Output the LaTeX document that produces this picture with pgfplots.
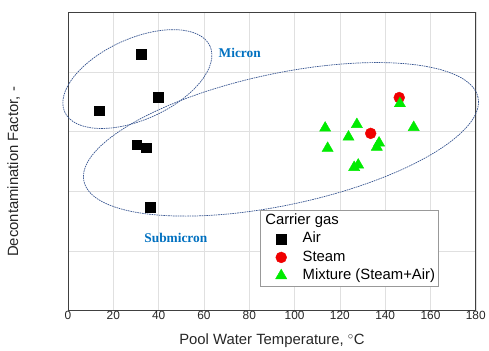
\documentclass[border=0pt]{standalone}
\usepackage{fontspec}
\setmainfont{Liberation Sans}
\newfontfamily\serifb{Liberation Serif}
\usepackage{pgfplots}
\pgfplotsset{compat=1.18}
\definecolor{mygreen}{RGB}{0,235,0}
\definecolor{myred}{RGB}{240,0,0}
\definecolor{myblue}{RGB}{0,112,192}
\definecolor{elcol}{RGB}{55,85,145}
\begin{document}
\begin{tikzpicture}
\begin{axis}[
  scale only axis, width=410.5bp, height=300.4bp,
  xmin=0, xmax=180, ymin=0, ymax=5,
  xtick={0,20,...,180}, ytick={1,2,3,4}, yticklabels={},
  grid=major, grid style={black!12, line width=0.6bp},
  major tick length=0pt,
  axis line style={draw=black!75, line width=1bp},
  clip=false,
  /pgf/number format/assume math mode=true,
  tick label style={font=\fontsize{12}{14}\selectfont, text=black!85},
  xticklabel style={yshift=2.5bp},
  xlabel={Pool Water Temperature, $^{\circ}$C},
  ylabel={Decontamination Factor, -},
  label style={font=\fontsize{15}{18}\selectfont, text=black!85},
  xlabel style={at={(axis description cs:0.5,-0.113)}, anchor=base},
  ylabel style={at={(axis description cs:-0.1335,0.465)}, anchor=center},
  legend style={at={(0.4714,0.0789)}, anchor=south west, draw=black!40, line width=0.8bp,
    font=\fontsize{15}{18}\selectfont, inner xsep=3.7bp, inner ysep=2bp, column sep=0bp,
    nodes={inner xsep=0bp, inner ysep=1.4bp, text height=11.5bp, text depth=4bp, line width=0.4bp},
    cells={anchor=west}},
  legend image code/.code={\path[draw=none,fill=none] (0bp,-2bp) rectangle (38.6bp,2bp); \draw[#1] plot coordinates {(17bp,0bp)};},
]
\addlegendimage{empty legend}
\addlegendentry{\hspace{-37.6bp}Carrier gas}
\addplot[only marks, mark=square*, mark size=5bp, black, line width=0.4bp] coordinates {
  (32.5,4.29) (40.0,3.57) (13.8,3.35) (30.3,2.78) (34.3,2.73) (36.2,1.74)
};
\addlegendentry{Air}
\addplot[only marks, mark=*, mark size=5.5bp, myred, line width=0.4bp] coordinates {
  (146.2,3.57) (133.6,2.97)
};
\addlegendentry{Steam}
\addplot[only marks, mark=triangle*, mark size=6.5bp, mygreen, line width=0.4bp] coordinates {
  (113.5,3.06) (127.5,3.12) (123.8,2.91) (114.6,2.72) (152.6,3.07)
  (146.5,3.47) (137.3,2.81) (136.3,2.74) (126.3,2.40) (128.1,2.44)
};
\addlegendentry{Mixture (Steam+Air)}
\draw[elcol, line width=0.7bp, dash pattern=on 1.6bp off 0.8bp, rotate around={24.4:(axis cs:30.6,3.88)}]
  (axis cs:30.6,3.88) ellipse [x radius=80.3bp, y radius=40.7bp];
\draw[elcol, line width=0.7bp, dash pattern=on 1.6bp off 0.8bp, rotate around={12:(axis cs:94.0,2.87)}]
  (axis cs:94.0,2.87) ellipse [x radius=202.8bp, y radius=66.2bp];
\node[font=\serifb\bfseries\fontsize{13.5}{15}\selectfont, text=myblue] at (axis cs:75.8,4.32) {Micron};
\node[font=\serifb\bfseries\fontsize{13.5}{15}\selectfont, text=myblue] at (axis cs:47.6,1.21) {Submicron};
\end{axis}
\path (current axis.south west) ++(-68.5bp,-37.3bp) rectangle ++(489bp,350bp);
\end{tikzpicture}
\end{document}
